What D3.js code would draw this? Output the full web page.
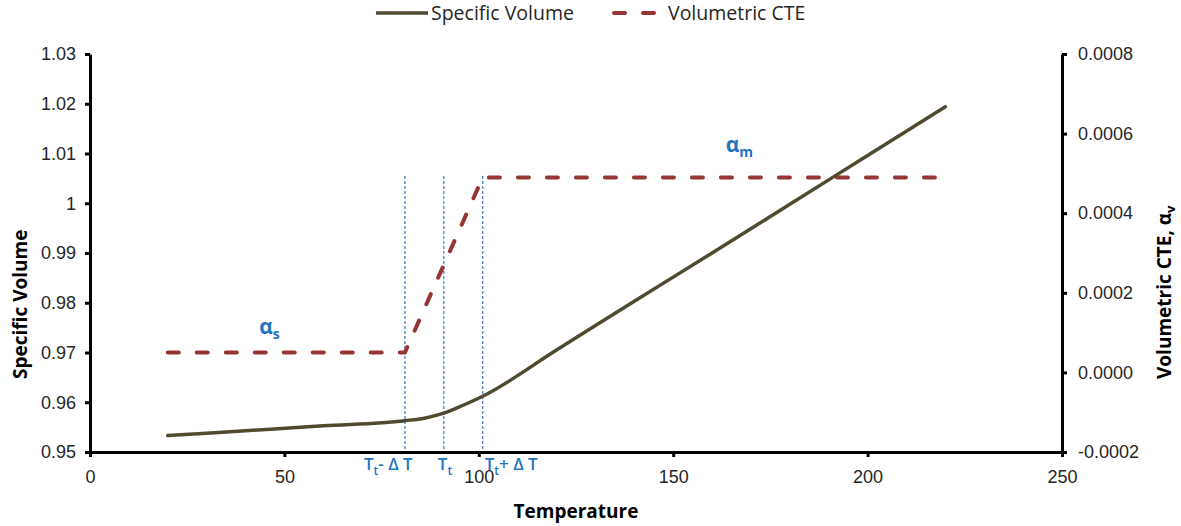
<!DOCTYPE html>
<html>
<head>
<meta charset="utf-8">
<script src="https://cdn.jsdelivr.net/npm/d3@7"></script>
<style>
  html, body { margin: 0; padding: 0; background: #fff; }
  svg { display: block; font-family: "Open Sans", "Noto Sans", sans-serif; }
</style>
</head>
<body>
<svg id="chart" width="1181" height="526"></svg>
<script>
// Specific volume vs. temperature through the glass transition
const temps = [20, 40, 60, 81, 86, 91, 96, 101, 120, 140, 160, 180, 200, 220];
const specificVolume = [0.9533, 0.95428, 0.95526, 0.9563, 0.9568, 0.9578, 0.9594, 0.9612,
                        0.9705, 0.9803, 0.9900, 0.9998, 1.0096, 1.0194];

// Volumetric coefficient of thermal expansion (secondary axis)
const cteTemps = [20, 81, 101, 220];
const cteValues = [0.00005, 0.00005, 0.00049, 0.00049];

// Transition temperatures marked with vertical guides
const markerTemps = [81, 91, 101];
const markerTop = 1.0055;

const xTicks = [0, 50, 100, 150, 200, 250];
const yLeftTicks = [0.95, 0.96, 0.97, 0.98, 0.99, 1, 1.01, 1.02, 1.03];
const yRightTicks = [-0.0002, 0, 0.0002, 0.0004, 0.0006, 0.0008];

const colors = { volume: "#4f4a30", cte: "#963634", guide: "#4a7fc8", label: "#1f73c3", text: "#262626" };

const svg = d3.select("#chart");
const plot = { left: 90, right: 1062, top: 54, bottom: 452 };

const x = d3.scaleLinear().domain([0, 250]).range([plot.left, plot.right]);
const yL = d3.scaleLinear().domain([0.95, 1.03]).range([plot.bottom, plot.top]);
const yR = d3.scaleLinear().domain([-0.0002, 0.0008]).range([plot.bottom, plot.top]);

// Axes
function styleAxis(g) {
  g.selectAll(".domain").attr("stroke", "#000").attr("stroke-width", 3);
  g.selectAll(".tick line").attr("stroke", "#000").attr("stroke-width", 3);
  g.selectAll(".tick text").attr("fill", colors.text).style("font-size", "18px");
}

svg.append("g")
  .attr("transform", `translate(0,${plot.bottom})`)
  .call(d3.axisBottom(x).tickValues(xTicks).tickSize(5).tickSizeOuter(0).tickPadding(10).tickFormat(d3.format("d")))
  .call(styleAxis)
  .call(g => g.selectAll(".tick text").attr("dy", "0.9em"));

svg.append("g")
  .attr("transform", `translate(${plot.left},0)`)
  .call(d3.axisLeft(yL).tickValues(yLeftTicks).tickSize(5).tickSizeOuter(0).tickPadding(9)
    .tickFormat(d => d3.format("")(+d.toFixed(2))))
  .call(styleAxis);

svg.append("g")
  .attr("transform", `translate(${plot.right},0)`)
  .call(d3.axisRight(yR).tickValues(yRightTicks).tickSize(5).tickSizeOuter(0).tickPadding(11))
  .call(styleAxis)
  .call(g => g.selectAll(".tick text").text(d => (d < 0 ? "-" : "") + Math.abs(d).toFixed(4)));

// Axis titles
svg.append("text")
  .attr("x", (plot.left + plot.right) / 2).attr("y", 518)
  .attr("text-anchor", "middle").attr("font-weight", 700).style("font-size", "19px")
  .attr("fill", "#000").text("Temperature");

svg.append("text")
  .attr("transform", "translate(27,379) rotate(-90)")
  .attr("text-anchor", "start").attr("font-weight", 700).style("font-size", "19px")
  .attr("fill", "#000").text("Specific Volume");

const rTitle = svg.append("text")
  .attr("transform", "translate(1171,379) rotate(-90)")
  .attr("text-anchor", "start").attr("font-weight", 700).style("font-size", "19px")
  .attr("fill", "#000");
rTitle.append("tspan").text("Volumetric CTE, α");
rTitle.append("tspan").attr("dy", 4).style("font-size", "13px").text("v");

// Vertical guides at the transition temperatures
svg.append("g").selectAll("line")
  .data(markerTemps).join("line")
  .attr("x1", d => x(d)).attr("x2", d => x(d))
  .attr("y1", yL(markerTop)).attr("y2", plot.bottom - 1.5)
  .attr("stroke", colors.guide).attr("stroke-width", 1.3).attr("stroke-dasharray", "3,2");

// Series
const cteLine = d3.line().x((d, i) => x(cteTemps[i])).y(d => yR(d));
svg.append("path")
  .datum(cteValues)
  .attr("d", cteLine)
  .attr("fill", "none").attr("stroke", colors.cte).attr("stroke-width", 4)
  .attr("stroke-linecap", "round").attr("stroke-linejoin", "round")
  .attr("stroke-dasharray", "11,18");

const volLine = d3.line().x((d, i) => x(temps[i])).y(d => yL(d)).curve(d3.curveMonotoneX);
svg.append("path")
  .datum(specificVolume)
  .attr("d", volLine)
  .attr("fill", "none").attr("stroke", colors.volume).attr("stroke-width", 3.5)
  .attr("stroke-linecap", "round");

// Transition labels under the axis
const tLabels = [
  { t: markerTemps[0], dx: -41, parts: [["T", 0], ["t", 1], ["- Δ T", 0]] },
  { t: markerTemps[1], dx: -6, parts: [["T", 0], ["t", 1]] },
  { t: markerTemps[2], dx: 2, parts: [["T", 0], ["t", 1], ["+ Δ T", 0]] }
];
tLabels.forEach(l => {
  const txt = svg.append("text")
    .attr("x", x(l.t) + l.dx).attr("y", 470)
    .attr("fill", colors.label).attr("font-weight", 600).style("font-size", "17px");
  let shifted = false;
  l.parts.forEach(([s, sub]) => {
    const ts = txt.append("tspan").text(s);
    if (sub) { ts.attr("dy", 5).style("font-size", "12px"); shifted = true; }
    else if (shifted) { ts.attr("dy", -5); shifted = false; }
  });
});

// Expansion coefficient labels
function alphaLabel(t, v, sub) {
  const txt = svg.append("text")
    .attr("x", x(t)).attr("y", yR(v))
    .attr("fill", colors.label).attr("font-weight", 700).style("font-size", "21px");
  txt.append("tspan").text("α");
  txt.append("tspan").attr("dy", 5).style("font-size", "14px").text(sub);
}
alphaLabel(43.5, 0.000096, "s");
alphaLabel(163.5, 0.000555, "m");

// Legend
const legend = svg.append("g");
legend.append("line")
  .attr("x1", 376).attr("x2", 428).attr("y1", 13).attr("y2", 13)
  .attr("stroke", colors.volume).attr("stroke-width", 3.5);
legend.append("text").attr("x", 431).attr("y", 20)
  .attr("fill", colors.text).style("font-size", "19.5px").text("Specific Volume");
legend.append("line")
  .attr("x1", 614).attr("x2", 660).attr("y1", 13).attr("y2", 13)
  .attr("stroke", colors.cte).attr("stroke-width", 4).attr("stroke-linecap", "round")
  .attr("stroke-dasharray", "11,18");
legend.append("text").attr("x", 668).attr("y", 20)
  .attr("fill", colors.text).style("font-size", "19.5px").text("Volumetric CTE");
</script>
</body>
</html>
